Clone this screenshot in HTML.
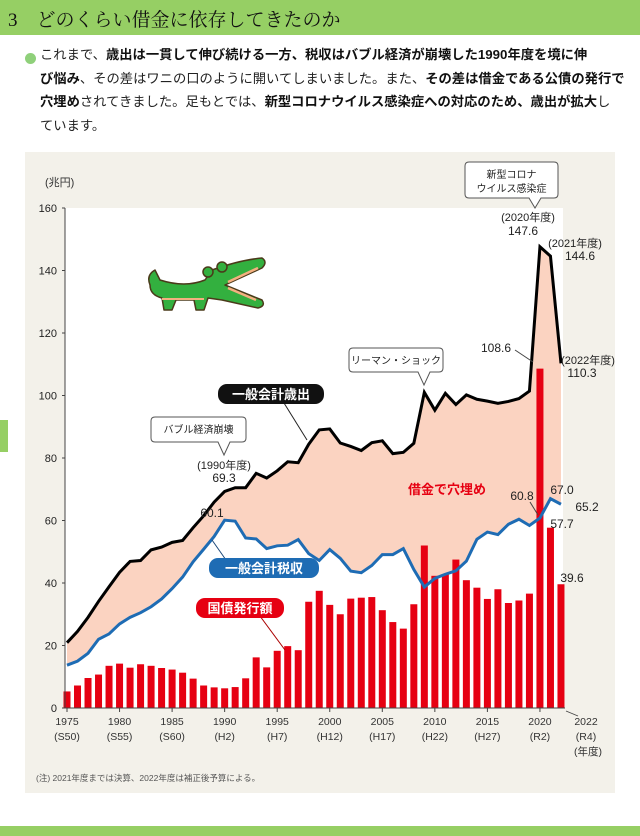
<!DOCTYPE html>
<html><head><meta charset="utf-8">
<style>
body{margin:0;width:640px;height:836px;background:#fff;position:relative;overflow:hidden;font-family:"Liberation Sans","Noto Sans CJK JP",sans-serif;}
.hdr{position:absolute;left:0;top:0;width:640px;height:35px;background:#96cf64;}
.hdr span{position:absolute;left:8px;top:5px;font-family:"Liberation Serif","Noto Serif CJK SC",serif;font-size:19px;color:#111;}
.p{position:absolute;left:40px;top:43px;width:600px;font-size:13.3px;line-height:23.5px;color:#222;white-space:nowrap;}
.p b{font-weight:bold;color:#111}
.dot{position:absolute;left:25px;top:53px;width:11px;height:11px;border-radius:50%;background:#8fd07a;}
.panel{position:absolute;left:25px;top:152px;width:590px;height:641px;background:#f3f1ea;}
.foot{position:absolute;left:0;top:826px;width:640px;height:10px;background:#96cf64;}
.side{position:absolute;left:0;top:420px;width:8px;height:32px;background:#96cf64;}
svg{position:absolute;left:0;top:0}
</style></head><body>
<div class="hdr"><span>3　どのくらい借金に依存してきたのか</span></div>
<div class="dot"></div>
<div class="p">これまで、<b>歳出は一貫して伸び続ける一方、税収はバブル経済が崩壊した1990年度を境に伸</b><br><b>び悩み</b>、その差はワニの口のように開いてしまいました。また、<b>その差は借金である公債の発行で</b><br><b>穴埋め</b>されてきました。足もとでは、<b>新型コロナウイルス感染症への対応のため、歳出が拡大</b>し<br>ています。</div>
<div class="panel"></div>
<div class="side"></div>
<div class="foot"></div>
<svg id="s" width="640" height="836" xmlns="http://www.w3.org/2000/svg" font-family="Liberation Sans, Noto Sans CJK JP, sans-serif"></svg>
<script>
var E=[20.9,24.5,29.0,34.1,38.8,43.4,46.9,47.2,50.6,51.5,53.0,53.6,57.7,61.5,65.9,69.3,70.5,70.5,75.1,73.6,75.9,78.8,78.5,84.4,89.0,89.3,84.8,83.7,82.4,84.9,85.5,81.4,81.8,84.7,101.0,95.3,100.7,97.1,100.2,98.8,98.2,97.5,98.1,99.0,101.4,147.6,144.6,110.3];
var T=[13.7,15.0,17.5,22.0,23.7,26.9,29.0,30.5,32.4,34.9,38.2,41.9,46.8,50.8,54.9,60.1,59.8,54.4,54.1,51.0,51.9,52.1,53.9,49.4,47.2,50.7,47.9,43.8,43.3,45.6,49.1,49.1,51.0,44.3,38.7,41.5,42.8,43.9,47.0,54.0,56.3,55.5,58.8,60.4,58.4,60.8,67.0,65.2];
var B=[5.3,7.2,9.6,10.7,13.5,14.2,12.9,14.0,13.5,12.8,12.3,11.3,9.4,7.2,6.6,6.3,6.7,9.5,16.2,13.0,18.3,19.8,18.5,34.0,37.5,33.0,30.0,35.0,35.3,35.5,31.3,27.5,25.4,33.2,52.0,42.3,42.8,47.5,40.9,38.5,34.9,38.0,33.6,34.4,36.6,108.6,57.7,39.6];
function X(i){return 67+i*10.51}
function Y(v){return 708-v*3.125}
var h='';
h+='<rect x="65" y="208" width="498" height="500" fill="#fff"/>';
var a='';for(var i=0;i<48;i++)a+=X(i)+','+Y(E[i])+' ';for(var i=47;i>=0;i--)a+=X(i)+','+Y(T[i])+' ';
h+='<polygon points="'+a+'" fill="#fbd3c1"/>';
for(var i=0;i<48;i++)h+='<rect x="'+(X(i)-3.5)+'" y="'+Y(B[i])+'" width="7" height="'+(B[i]*3.125)+'" fill="#e60012"/>';
var pe='',pt='';for(var i=0;i<48;i++){pe+=X(i)+','+Y(E[i])+' ';pt+=X(i)+','+Y(T[i])+' ';}
h+='<polyline points="'+pe+'" fill="none" stroke="#000" stroke-width="3" stroke-linejoin="miter"/>';
h+='<polyline points="'+pt+'" fill="none" stroke="#1e6cb4" stroke-width="3"/>';
h+='<line x1="65" y1="208" x2="65" y2="708" stroke="#444"/><line x1="65" y1="708" x2="565" y2="708" stroke="#444"/>';
for(var v=0;v<=160;v+=20){h+='<line x1="62" x2="65" y1="'+Y(v)+'" y2="'+Y(v)+'" stroke="#444"/><text x="57" y="'+(Y(v)+4)+'" font-size="11" text-anchor="end" fill="#222">'+v+'</text>';}
var lab=[[0,'1975','(S50)'],[5,'1980','(S55)'],[10,'1985','(S60)'],[15,'1990','(H2)'],[20,'1995','(H7)'],[25,'2000','(H12)'],[30,'2005','(H17)'],[35,'2010','(H22)'],[40,'2015','(H27)'],[45,'2020','(R2)']];
lab.forEach(function(l){var x=X(l[0]);h+='<line x1="'+x+'" x2="'+x+'" y1="708" y2="712" stroke="#444"/><text x="'+x+'" y="725" font-size="10.5" text-anchor="middle" fill="#333">'+l[1]+'</text><text x="'+x+'" y="740" font-size="10.5" text-anchor="middle" fill="#333">'+l[2]+'</text>';});
h+='<line x1="566" y1="711" x2="578" y2="716" stroke="#444" stroke-width="0.8"/><text x="586" y="725" font-size="10.5" text-anchor="middle" fill="#333">2022</text><text x="586" y="740" font-size="10.5" text-anchor="middle" fill="#333">(R4)</text><text x="588" y="755" font-size="10.5" text-anchor="middle" fill="#333">(年度)</text>';
h+='<text x="45" y="186" font-size="11" fill="#333">(兆円)</text>';
h+='<text x="36" y="781" font-size="8.5" fill="#555">(注) 2021年度までは決算、2022年度は補正後予算による。</text>';
h+='<g stroke="#4a3a1a" stroke-width="1.5" stroke-linejoin="round" fill="#33b03f">'+
'<path d="M150 285 Q146 275 155 270 L160 280 Q185 288 205 280 L212 270 Q240 260 262 258 Q268 262 262 268 L225 285 L262 300 Q266 306 258 308 L222 300 L208 298 L204 310 L196 310 L194 300 L176 300 L172 310 L164 310 L162 298 Q150 295 150 285 Z"/>'+
'<circle cx="208" cy="272" r="5"/><circle cx="222" cy="267" r="5"/></g>'+
'<path d="M228 282 L258 268 M228 288 L256 300" stroke="#f4b080" stroke-width="2.5"/><path d="M162 299 L204 299" stroke="#f4b080" stroke-width="2"/>';
function pill(x,y,w,hh,c,t){return '<rect x="'+x+'" y="'+y+'" width="'+w+'" height="'+hh+'" rx="9" fill="'+c+'"/><text x="'+(x+w/2)+'" y="'+(y+hh/2+5)+'" font-size="13" font-weight="bold" text-anchor="middle" fill="#fff">'+t+'</text>';}
h+='<line x1="284" y1="403" x2="307" y2="440" stroke="#222"/>'+pill(218,384,106,20,'#111','一般会計歳出');
h+='<line x1="226" y1="560" x2="212" y2="540" stroke="#1e4a7a"/>'+pill(209,558,110,20,'#1e6cb4','一般会計税収');
h+='<line x1="257" y1="612" x2="285" y2="650" stroke="#a00"/>'+pill(196,598,88,20,'#e60012','国債発行額');
function call(x,y,w,hh,px,py,lines){var s='<path d="M'+(x+4)+' '+y+' H'+(x+w-4)+' Q'+(x+w)+' '+y+' '+(x+w)+' '+(y+4)+' V'+(y+hh-4)+' Q'+(x+w)+' '+(y+hh)+' '+(x+w-4)+' '+(y+hh)+' H'+(px+6)+' L'+px+' '+py+' L'+(px-6)+' '+(y+hh)+' H'+(x+4)+' Q'+x+' '+(y+hh)+' '+x+' '+(y+hh-4)+' V'+(y+4)+' Q'+x+' '+y+' '+(x+4)+' '+y+' Z" fill="#fff" stroke="#555"/>';lines.forEach(function(l,k){s+='<text x="'+(x+w/2)+'" y="'+(y+16+k*14)+'" font-size="10" text-anchor="middle" fill="#222">'+l+'</text>';});return s;}
h+=call(151,417,95,25,224,455,['バブル経済崩壊']);
h+=call(349,348,94,24,424,385,['リーマン・ショック']);
h+=call(465,162,93,36,535,208,['新型コロナ','ウイルス感染症']);
function t(x,y,s,o,c,fw,an){return '<text x="'+x+'" y="'+y+'" font-size="'+(s||11)+'" fill="'+(c||'#222')+'" font-weight="'+(fw||'normal')+'" text-anchor="'+(an||'middle')+'">'+o+'</text>';}
h+=t(224,469,11,'(1990年度)')+t(224,482,12,'69.3');
h+=t(528,221,11,'(2020年度)')+t(523,235,12,'147.6');
h+=t(575,247,11,'(2021年度)')+t(580,260,12,'144.6');
h+=t(588,364,11,'(2022年度)')+t(582,377,12,'110.3');
h+=t(496,352,12,'108.6')+'<line x1="515" y1="350" x2="533" y2="362" stroke="#444"/>';
h+=t(212,517,12,'60.1');
h+=t(522,500,12,'60.8')+'<line x1="530" y1="502" x2="538" y2="515" stroke="#444"/>';
h+=t(562,494,12,'67.0')+t(587,511,12,'65.2')+t(562,528,12,'57.7')+t(572,582,12,'39.6');
h+=t(447,494,13,'借金で穴埋め','#e60012','bold');
document.getElementById('s').innerHTML=h;
</script>
</body></html>
